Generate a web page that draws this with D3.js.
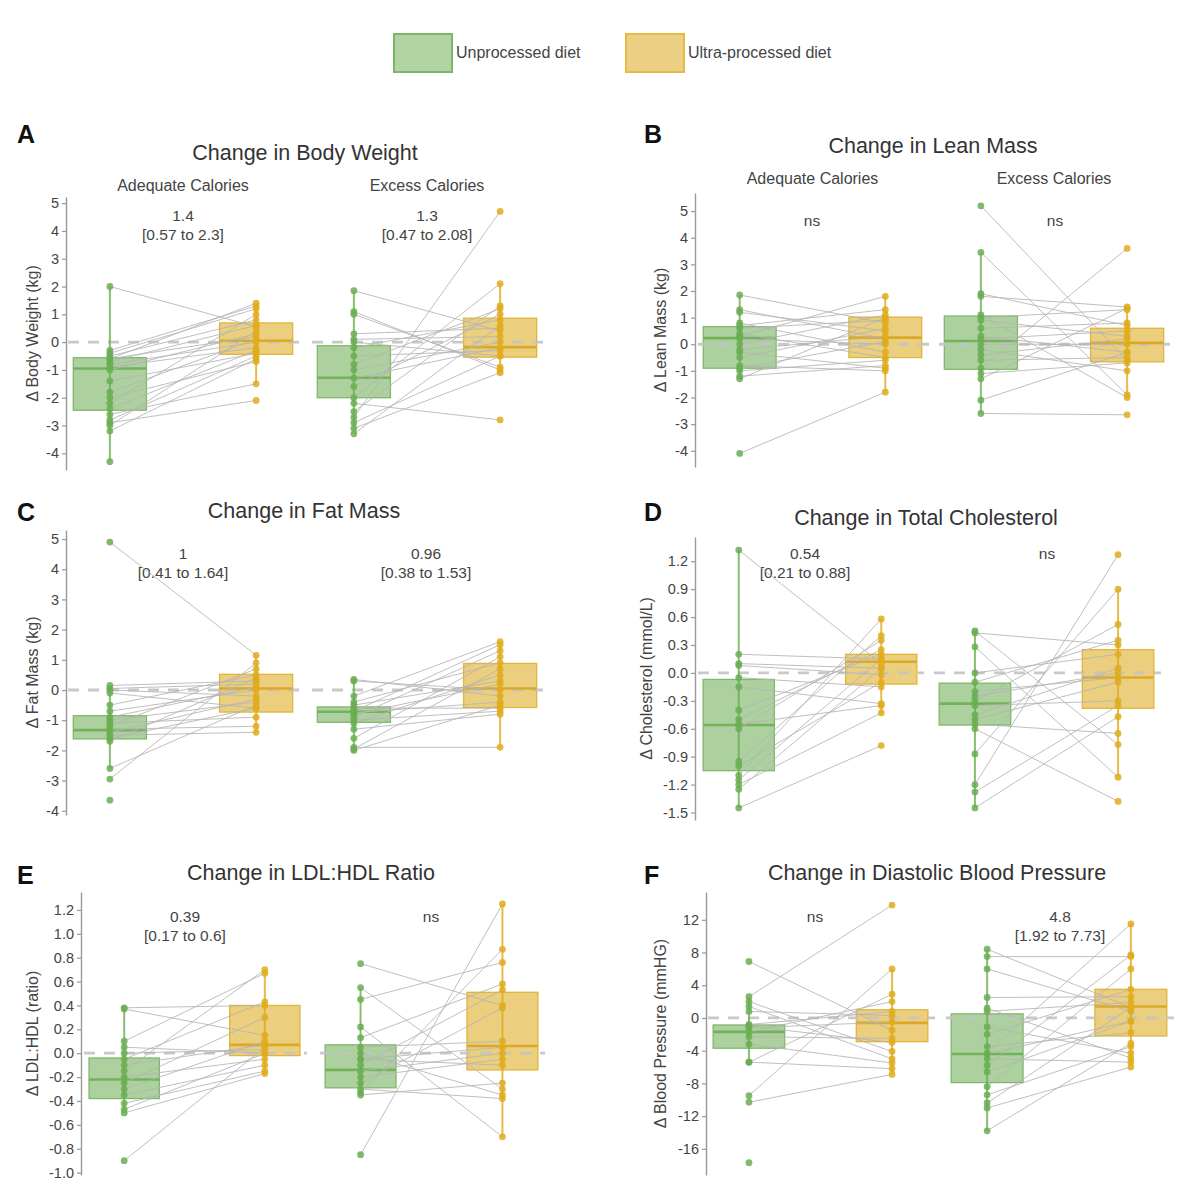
<!DOCTYPE html>
<html><head><meta charset="utf-8">
<script src="https://cdn.jsdelivr.net/npm/d3@7"></script>
<style>body{margin:0;background:#fff}svg{display:block}</style>
</head><body>
<svg id="c" width="1200" height="1194"></svg>
<script>
// ---------- categories ----------
const diets = ["Unprocessed diet", "Ultra-processed diet"];
const facetNames = ["Adequate Calories", "Excess Calories"];

// ---------- A: body weight (kg) — paired values per participant ----------
const bwAdqUnp = [2.0,-0.3,-0.4,-0.5,-0.6,-0.6,-0.7,-0.8,-0.9,-1.0,-1.4,-1.8,-2.0,-2.2,-2.4,-2.6,-2.8,-3.0,-3.2,-2.9,-4.3];
const bwAdqUlt = [0.55,1.3,1.2,0.8,0.2,1.4,0.6,0.0,-0.2,0.3,-0.4,0.1,-0.7,1.0,-0.3,-1.5,-0.5,0.4,-0.6,-2.1,null];
const bwExcUnp = [1.85,1.1,1.0,0.3,0.1,0.0,-0.2,-0.5,-0.8,-1.0,-1.3,-1.6,-2.0,-2.2,-2.5,-2.7,-2.9,-3.1,-3.3];
const bwExcUlt = [0.4,-1.0,-0.9,0.5,0.2,-0.5,0.8,-0.3,1.2,0.0,-0.2,1.0,2.1,-2.8,1.3,4.7,-0.5,-1.1,0.6];
// box stats [whisker low, q1, median, q3, whisker high]
const bwBox = [[-4.3,-2.45,-0.95,-0.56,2.0],[-1.5,-0.44,0.05,0.69,1.4],[-3.3,-2.0,-1.28,-0.13,1.85],[-1.1,-0.54,-0.18,0.86,2.1]];
const bwTicks = [-4,-3,-2,-1,0,1,2,3,4,5];
const bwNotes = [["1.4","[0.57 to 2.3]"],["1.3","[0.47 to 2.08]"]];

// ---------- B: lean mass (kg) ----------
const lmAdqUnp = [1.85,1.3,1.2,0.8,0.7,0.6,0.4,0.3,0.2,0.0,-0.2,-0.3,-0.5,-0.8,-0.9,-1.0,-1.2,-1.3,-4.1];
const lmAdqUlt = [0.8,0.2,0.5,-0.3,1.3,0.9,-0.5,1.8,0.0,1.1,0.3,-0.9,0.6,-1.0,0.1,-0.6,-0.8,1.0,-1.8];
const lmExcUnp = [5.2,3.45,1.9,1.8,1.1,1.0,0.9,0.6,0.3,0.2,0.0,-0.2,-0.4,-0.6,-0.9,-1.1,-1.3,-2.1,-2.6];
const lmExcUlt = [-0.6,-1.9,0.7,1.4,-2.0,1.3,0.3,0.8,-0.3,0.5,0.0,-1.0,0.2,-0.5,3.6,-0.7,1.35,-0.3,-2.65];
const lmBox = [[-1.3,-0.9,0.23,0.66,1.85],[-1.8,-0.5,0.25,1.02,1.8],[-2.6,-0.94,0.12,1.06,3.45],[-2.0,-0.66,0.05,0.6,1.4]];
const lmTicks = [-4,-3,-2,-1,0,1,2,3,4,5];
const lmNotes = [["ns"],["ns"]];

// ---------- C: fat mass (kg) ----------
const fmAdqUnp = [4.9,0.15,0.05,0.0,-0.1,-0.5,-0.7,-0.9,-1.0,-1.1,-1.2,-1.3,-1.4,-1.5,-1.6,-1.7,-2.6,-2.95,-3.65];
const fmAdqUlt = [1.15,0.3,0.2,-0.2,-0.6,0.5,0.0,0.1,-0.4,-0.9,0.7,-1.2,-0.3,-1.4,-0.6,0.4,-0.5,0.9,null];
const fmExcUnp = [0.35,0.3,-0.2,-0.4,-0.5,-0.6,-0.7,-0.75,-0.8,-0.9,-1.0,-1.1,-1.3,-1.6,-1.9,-1.95,-2.0];
const fmExcUlt = [-0.2,0.0,1.6,0.9,0.3,-0.6,1.5,-0.4,0.2,1.3,-0.7,0.5,-0.8,1.1,-1.9,0.7,-0.5];
const fmBox = [[-2.6,-1.62,-1.33,-0.85,0.15],[-1.4,-0.73,0.05,0.52,1.15],[-2.0,-1.07,-0.72,-0.56,0.35],[-1.9,-0.58,0.05,0.88,1.6]];
const fmTicks = [-4,-3,-2,-1,0,1,2,3,4,5];
const fmNotes = [["1","[0.41 to 1.64]"],["0.96","[0.38 to 1.53]"]];

// ---------- D: total cholesterol (mmol/L) ----------
const tcAdqUnp = [1.32,0.2,0.1,0.08,-0.05,-0.15,-0.4,-0.5,-0.55,-0.6,-0.95,-1.0,-1.1,-1.15,-1.2,-1.25,-1.45];
const tcAdqUlt = [0.1,0.15,0.05,-0.02,-0.15,-0.33,0.2,0.25,-0.35,0.35,0.4,-0.1,0.58,0.15,-0.43,0.05,-0.78];
const tcExcUnp = [0.45,0.43,0.28,0.0,-0.1,-0.2,-0.25,-0.3,-0.35,-0.45,-0.5,-0.55,-0.6,-0.87,-1.2,-1.28,-1.45];
const tcExcUlt = [-0.77,0.3,-1.12,0.2,0.35,-0.05,0.0,0.52,-0.3,0.05,-0.1,-0.65,-1.38,0.9,1.27,-0.35,-0.47];
const tcBox = [[-1.45,-1.05,-0.56,-0.07,1.32],[-0.43,-0.12,0.12,0.2,0.58],[-1.45,-0.56,-0.33,-0.11,0.45],[-1.12,-0.38,-0.05,0.25,0.9]];
const tcTicks = [-1.5,-1.2,-0.9,-0.6,-0.3,0,0.3,0.6,0.9,1.2];
const tcNotes = [["0.54","[0.21 to 0.88]"],["ns"]];

// ---------- E: LDL:HDL ratio ----------
const lhAdqUnp = [0.38,0.37,0.1,0.05,0.0,-0.05,-0.1,-0.15,-0.2,-0.25,-0.3,-0.35,-0.42,-0.47,-0.5,-0.9];
const lhAdqUlt = [0.4,0.15,0.67,0.0,0.03,0.43,0.07,0.7,-0.05,0.3,0.1,-0.1,-0.15,0.0,-0.17,0.05];
const lhExcUnp = [0.75,0.55,0.45,0.22,0.13,0.05,0.0,-0.05,-0.05,-0.1,-0.15,-0.2,-0.25,-0.3,-0.33,-0.35,-0.85];
const lhExcUlt = [0.4,-0.3,0.76,-0.7,0.58,0.1,-0.35,0.05,-0.1,0.53,0.0,-0.05,0.38,-0.38,0.87,-0.25,1.25];
const lhBox = [[-0.5,-0.38,-0.22,-0.04,0.38],[-0.17,-0.02,0.07,0.4,0.7],[-0.36,-0.29,-0.14,0.07,0.55],[-0.7,-0.14,0.06,0.51,1.25]];
const lhTicks = [-1.0,-0.8,-0.6,-0.4,-0.2,0,0.2,0.4,0.6,0.8,1.0,1.2];
const lhNotes = [["0.39","[0.17 to 0.6]"],["ns"]];

// ---------- F: diastolic blood pressure (mmHG) ----------
const bpAdqUnp = [6.9,2.6,2.0,1.4,0.8,-0.8,-1.0,-1.2,-1.7,-2.3,-3.2,-5.4,-5.4,-9.5,-10.3,-17.7];
const bpAdqUlt = [-1.5,13.8,-4.1,-5.0,0.3,0.8,-3.0,-0.5,2.0,-2.5,-5.5,-6.2,2.9,6.0,-6.9,null];
const bpExcUnp = [8.4,7.5,6.0,2.5,1.2,0.8,-1.1,-2.0,-3.5,-4.3,-4.4,-5.0,-5.8,-6.6,-8.4,-9.4,-10.4,-11.0,-13.8];
const bpExcUlt = [1.3,7.5,0.8,2.6,-4.9,1.9,-4.3,3.5,-1.8,11.5,-0.4,-5.4,7.7,-0.4,6.0,-3.5,1.3,-6.0,-3.1];
const bpBox = [[-5.4,-3.7,-1.7,-0.86,2.6],[-6.9,-2.9,-0.6,1.0,6.0],[-13.8,-7.9,-4.4,0.5,8.4],[-6.0,-2.2,1.4,3.5,11.5]];
const bpTicks = [-16,-12,-8,-4,0,4,8,12];
const bpNotes = [["ns"],["4.8","[1.92 to 7.73]"]];

// ---------- layout (positions & styles only) ----------
const FONT = "'Liberation Sans', Arial, Helvetica, sans-serif";
const COL = {
  "Unprocessed diet":   {fill:"#8cbf78", stroke:"#80b86b", pt:"#6aae52", med:"#72b25a", lfill:"#b2d3a3", lstroke:"#7db56a"},
  "Ultra-processed diet":{fill:"#e3bd4d", stroke:"#e0b53c", pt:"#e0ab1c", med:"#dca828", lfill:"#ebd083", lstroke:"#e3bb45"}
};
const fInt = v => String(v);
const f1 = v => v.toFixed(1);

const panels = [
  {letter:"A", lx:17, ly:143, title:"Change in Body Weight", tx:305, ty:160, facetY:191,
   ylab:"\u0394 Body Weight (kg)", ylx:38, axisX:66, yTop:197, yBot:470, dom:[-4.6,5.22],
   ticks:bwTicks, fmt:fInt, box:bwBox, notes:bwNotes, noteX:[183,427], noteY:221,
   ranges:[[66,300],[310,544]], data:[[bwAdqUnp,bwAdqUlt],[bwExcUnp,bwExcUlt]]},
  {letter:"B", lx:644, ly:143, title:"Change in Lean Mass", tx:933, ty:153, facetY:184,
   ylab:"\u0394 Lean Mass (kg)", ylx:666, axisX:695, yTop:193, yBot:467, dom:[-4.61,5.68],
   ticks:lmTicks, fmt:fInt, box:lmBox, notes:lmNotes, noteX:[812,1055], noteY:226,
   ranges:[[696,929],[937,1171]], data:[[lmAdqUnp,lmAdqUlt],[lmExcUnp,lmExcUlt]]},
  {letter:"C", lx:17, ly:521, title:"Change in Fat Mass", tx:304, ty:518, facetY:null,
   ylab:"\u0394 Fat Mass (kg)", ylx:38, axisX:66, yTop:530, yBot:815, dom:[-4.14,5.3],
   ticks:fmTicks, fmt:fInt, box:fmBox, notes:fmNotes, noteX:[183,426], noteY:559,
   ranges:[[66,300],[310,544]], data:[[fmAdqUnp,fmAdqUlt],[fmExcUnp,fmExcUlt]]},
  {letter:"D", lx:644, ly:521, title:"Change in Total Cholesterol", tx:926, ty:525, facetY:null,
   ylab:"\u0394 Cholesterol (mmol/L)", ylx:652, axisX:695, yTop:537, yBot:820, dom:[-1.58,1.46],
   ticks:tcTicks, fmt:f1, box:tcBox, notes:tcNotes, noteX:[805,1047], noteY:559,
   ranges:[[696,924],[932,1161]], data:[[tcAdqUnp,tcAdqUlt],[tcExcUnp,tcExcUlt]]},
  {letter:"E", lx:17, ly:884, title:"Change in LDL:HDL Ratio", tx:311, ty:880, facetY:null,
   ylab:"\u0394 LDL:HDL (ratio)", ylx:38, axisX:81, yTop:892, yBot:1175, dom:[-1.02,1.35],
   ticks:lhTicks, fmt:f1, box:lhBox, notes:lhNotes, noteX:[185,431], noteY:922,
   ranges:[[82,307],[318,545]], data:[[lhAdqUnp,lhAdqUlt],[lhExcUnp,lhExcUlt]]},
  {letter:"F", lx:644, ly:884, title:"Change in Diastolic Blood Pressure", tx:937, ty:880, facetY:null,
   ylab:"\u0394 Blood Pressure (mmHG)", ylx:666, axisX:706, yTop:892, yBot:1175, dom:[-19.2,15.4],
   ticks:bpTicks, fmt:fInt, box:bpBox, notes:bpNotes, noteX:[815,1060], noteY:922,
   ranges:[[706,935],[944,1174]], data:[[bpAdqUnp,bpAdqUlt],[bpExcUnp,bpExcUlt]]}
];

const svg = d3.select("#c");
svg.append("rect").attr("width",1200).attr("height",1194).attr("fill","#fff");

// ---------- legend ----------
const legX = [394, 626];
diets.forEach((d,i)=>{
  svg.append("rect").attr("x",legX[i]).attr("y",34).attr("width",58).attr("height",38)
    .attr("fill",COL[d].lfill).attr("stroke",COL[d].lstroke).attr("stroke-width",2);
  svg.append("text").attr("x",legX[i]+62).attr("y",58).text(d)
    .attr("font-family",FONT).attr("font-size",16).attr("fill","#444");
});

// ---------- panels ----------
panels.forEach(p=>{
  const g = svg.append("g");
  const y = d3.scaleLinear().domain(p.dom).range([p.yBot,p.yTop]);

  g.append("text").attr("x",p.lx).attr("y",p.ly).text(p.letter)
    .attr("font-family",FONT).attr("font-size",25).attr("font-weight","bold").attr("fill","#111");
  g.append("text").attr("x",p.tx).attr("y",p.ty).text(p.title).attr("text-anchor","middle")
    .attr("font-family",FONT).attr("font-size",21.5).attr("fill","#333");

  // y axis
  const ax = g.append("g").attr("transform",`translate(${p.axisX},0)`)
    .call(d3.axisLeft(y).tickValues(p.ticks).tickFormat(p.fmt).tickSizeInner(4).tickSizeOuter(0).tickPadding(3));
  ax.select(".domain").attr("stroke","#999").attr("stroke-width",1.4);
  ax.selectAll(".tick line").attr("stroke","#999").attr("stroke-width",1.2);
  ax.selectAll(".tick text").attr("font-family",FONT).attr("font-size",14.5).attr("fill","#444");

  const ym = (p.yTop+p.yBot)/2;
  g.append("text").attr("transform",`translate(${p.ylx},${ym}) rotate(-90)`).text(p.ylab)
    .attr("text-anchor","middle").attr("font-family",FONT).attr("font-size",16).attr("fill","#444");

  p.ranges.forEach((r,fi)=>{
    const x = d3.scalePoint().domain(diets).range(r).padding(0.3);
    const bw = x.step()*0.5;
    const [unp, ult] = p.data[fi];
    const boxes = [p.box[fi*2], p.box[fi*2+1]];
    const fg = g.append("g");

    if (p.facetY) {
      fg.append("text").attr("x",(r[0]+r[1])/2).attr("y",p.facetY).text(facetNames[fi])
        .attr("text-anchor","middle").attr("font-family",FONT).attr("font-size",16).attr("fill","#444");
    }
    // annotation
    p.notes[fi].forEach((t,k)=>{
      fg.append("text").attr("x",p.noteX[fi]).attr("y",p.noteY+k*19).text(t)
        .attr("text-anchor","middle").attr("font-family",FONT).attr("font-size",15.5).attr("fill","#444");
    });

    // boxes
    diets.forEach((d,di)=>{
      const b = boxes[di], c = COL[d], cx = x(d);
      fg.append("rect").attr("x",cx-bw/2).attr("y",y(b[3])).attr("width",bw).attr("height",y(b[1])-y(b[3]))
        .attr("fill",c.fill).attr("fill-opacity",0.72).attr("stroke",c.stroke).attr("stroke-width",1.3);
    });
    // zero dashed line
    fg.append("line").attr("x1",r[0]+2).attr("x2",r[1]).attr("y1",y(0)).attr("y2",y(0))
      .attr("stroke","#c4c4c4").attr("stroke-width",2.8).attr("stroke-dasharray","11,9").attr("opacity",0.9);
    // medians
    diets.forEach((d,di)=>{
      const b = boxes[di], c = COL[d], cx = x(d);
      fg.append("line").attr("x1",cx-bw/2).attr("x2",cx+bw/2).attr("y1",y(b[2])).attr("y2",y(b[2]))
        .attr("stroke",c.med).attr("stroke-width",2.6);
    });
    // paired lines
    const pairs = unp.map((v,i)=>[v,ult[i]]).filter(q=>q[0]!=null && q[1]!=null);
    fg.selectAll("line.pair").data(pairs).join("line").attr("class","pair")
      .attr("x1",x(diets[0])).attr("x2",x(diets[1]))
      .attr("y1",q=>y(q[0])).attr("y2",q=>y(q[1]))
      .attr("stroke","#b5b5b5").attr("stroke-width",1).attr("opacity",0.85);
    // whiskers
    diets.forEach((d,di)=>{
      const b = boxes[di], c = COL[d], cx = x(d);
      fg.append("line").attr("x1",cx).attr("x2",cx).attr("y1",y(b[0])).attr("y2",y(b[4]))
        .attr("stroke",c.pt).attr("stroke-width",2).attr("opacity",0.8);
    });
    // points
    [unp, ult].forEach((arr,di)=>{
      const d = diets[di];
      fg.selectAll(null).data(arr.filter(v=>v!=null)).join("circle")
        .attr("cx",x(d)).attr("cy",v=>y(v)).attr("r",3.4)
        .attr("fill",COL[d].pt).attr("fill-opacity",0.85);
    });
  });
});
</script>
</body></html>
